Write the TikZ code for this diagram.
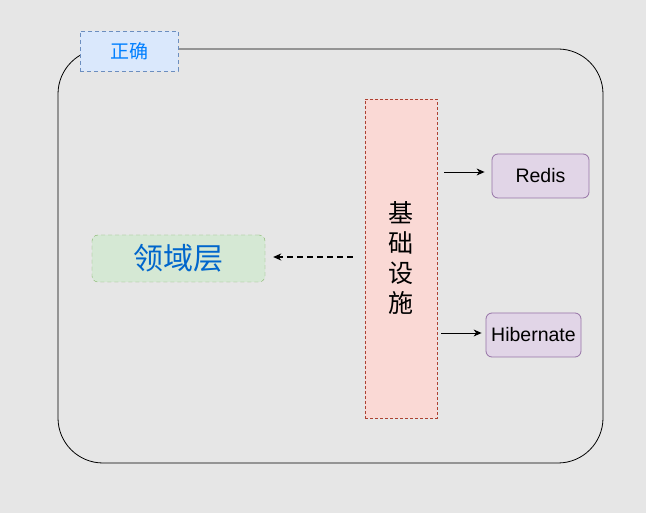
\documentclass[tikz,border=0pt]{standalone}
\usepackage{fontspec}
\setmainfont{Liberation Sans}
\newfontfamily\cjk{Noto Sans CJK SC}
\usepackage{tikz}
\usetikzlibrary{arrows.meta}
\usepackage{xcolor}
\definecolor{bg}{HTML}{E6E6E6}
\definecolor{lbfill}{HTML}{DAE8FC}
\definecolor{lbline}{HTML}{6C8EBF}
\definecolor{lbtext}{HTML}{007FFF}
\definecolor{infill}{HTML}{FAD9D5}
\definecolor{inline}{HTML}{AE4132}
\definecolor{dmfill}{HTML}{D5E8D4}
\definecolor{dmline}{HTML}{82B366}
\definecolor{dmtext}{HTML}{0066CC}
\definecolor{tlfill}{HTML}{E1D5E7}
\definecolor{tlline}{HTML}{9673A6}

\begin{document}
\begin{tikzpicture}[x=1pt,y=-1pt,>={Stealth[length=8pt,width=7pt,inset=2.5pt]}]
            \tikzstyle{every node}=[inner sep=0pt]
            \tikzstyle{tool}=[draw=tlline,fill=tlfill,rounded corners=6pt,line width=0.8pt,font=\fontsize{19.5}{19.5}\selectfont]
            \fill[bg] (0,0) rectangle (646,513);
            \useasboundingbox (0,0) rectangle (646,513);
            \draw[line width=0.8pt,rounded corners=45pt] (58,49) rectangle (603,463);
            \node[draw=lbline,fill=lbfill,dash pattern=on 4pt off 3pt,minimum width=98pt,minimum height=40pt,text=lbtext,font=\cjk\fontsize{19}{19}\selectfont] (label) at (129,51) {正确};
            \node[draw=inline,fill=infill,dash pattern=on 3pt off 2pt,minimum width=72pt,minimum height=319pt,align=center,font=\cjk\fontsize{25}{30}\selectfont] (infra) at (401,258.5) {基\\础\\设\\施};
            \node[draw=dmline,fill=dmfill,dash pattern=on 4pt off 3pt,rounded corners=6pt,minimum width=173pt,minimum height=47pt,text=dmtext,font=\cjk\fontsize{30}{30}\selectfont] (domain) at (178.5,258.5) {领域层};
            \node[tool,minimum width=97pt,minimum height=44pt] (redis) at (540.5,176) {Redis};
            \node[tool,minimum width=95pt,minimum height=44pt] (hib) at (533.5,335) {Hibernate};
            \draw[->,line width=0.9pt,shorten <=7pt,shorten >=7pt] ([yshift=4pt]infra.east |- redis.west) -- ([yshift=4pt]redis.west);
            \draw[->,line width=0.9pt,shorten <=4pt,shorten >=4pt] ([yshift=2pt]infra.east |- hib.west) -- ([yshift=2pt]hib.west);
            \draw[->,line width=1.2pt,dash pattern=on 6pt off 4pt,shorten <=12pt,shorten >=8pt] ([yshift=1.5pt]infra.west |- domain.east) -- ([yshift=1.5pt]domain.east);
          \end{tikzpicture}
\end{document}
